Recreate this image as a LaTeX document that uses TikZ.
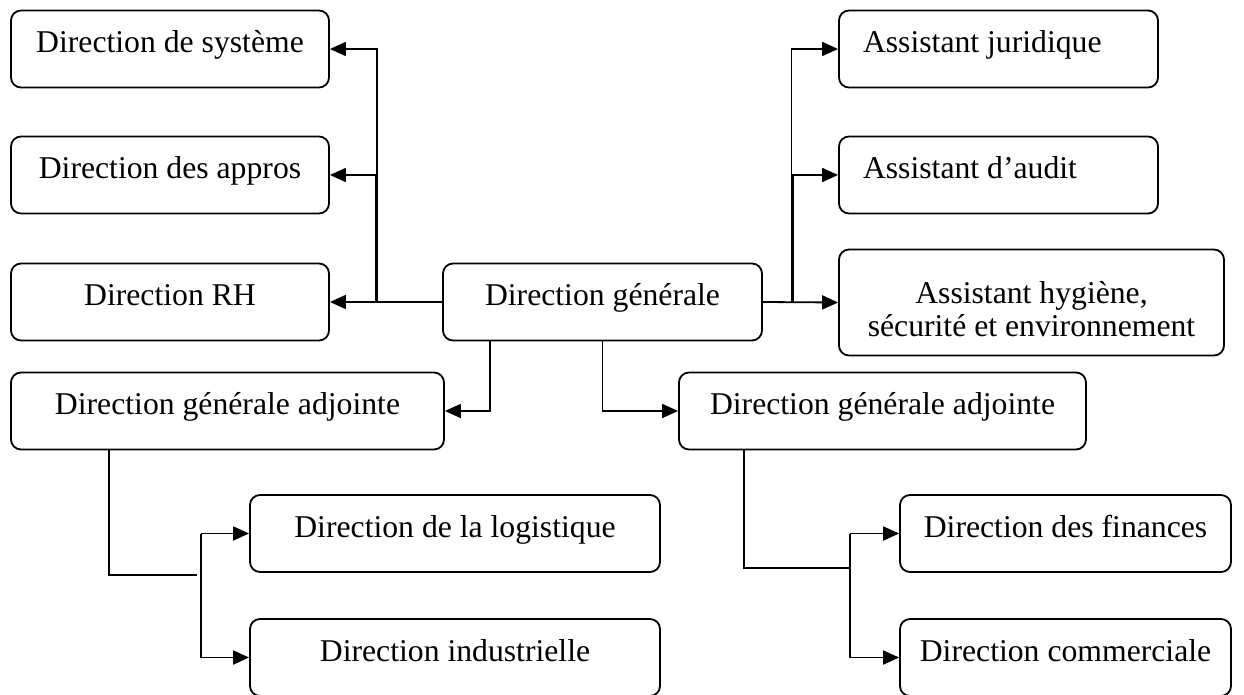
\documentclass[tikz,border=0pt]{standalone}
\usepackage{fontspec}
\setmainfont{Liberation Serif}
\usetikzlibrary{arrows.meta}

\tikzset{
  unit/.style={draw, rounded corners=10pt, line width=1.8pt, inner sep=0pt,
    minimum height=77pt, text height=42pt, text depth=35pt},
  link/.style={line width=1.8pt},
  tolink/.style={link, -{Triangle[length=16pt,width=14pt]}},
}

\begin{document}
\begin{tikzpicture}[x=1pt, y=-1pt, font=\fontsize{31.7pt}{33pt}\selectfont]
\useasboundingbox (0,0) rectangle (1244,695);

% head office
\node[unit, minimum width=319pt] (dg) at (602.5,302) {Direction générale};

% left-hand directions
\node[unit, minimum width=318pt] (sys) at (170,49) {Direction de système};
\node[unit, minimum width=318pt] (appros) at (170,175) {Direction des appros};
\node[unit, minimum width=318pt] (rh) at (170,302) {Direction RH};

% assistants
\node[unit, minimum width=319pt] (jur) at (998.5,49) {\makebox[271pt][l]{Assistant juridique}};
\node[unit, minimum width=319pt] (aud) at (998.5,175) {\makebox[271pt][l]{Assistant d’audit}};
\node[unit, minimum width=385pt, minimum height=106pt, text height=53.5pt, text depth=52.5pt]
  (hyg) at (1031.5,302.5)
  {\begin{tabular}[t]{@{}c@{}}Assistant hygiène,\\sécurité et environnement\end{tabular}};

% deputy offices
\node[unit, minimum width=433pt] (dgal) at (227.5,411) {Direction générale adjointe};
\node[unit, minimum width=407pt] (dgar) at (882.5,411) {Direction générale adjointe};

% lower directions
\node[unit, minimum width=410pt] (log) at (455,533.5) {Direction de la logistique};
\node[unit, minimum width=410pt] (ind) at (455,657.5) {Direction industrielle};
\node[unit, minimum width=331pt] (fin) at (1065.5,533.5) {Direction des finances};
\node[unit, minimum width=331pt] (com) at (1065.5,657.5) {Direction commerciale};

% junction points
\coordinate (jl) at (377,302);
\coordinate (jr) at (791.5,302);
\coordinate (bl) at (197,575);
\coordinate (br) at (851,568);

% head office to the left-hand directions
\draw[tolink] (dg.west) -- (rh.east);
\draw[tolink] (jl) |- (sys.east);
\draw[tolink] ([xshift=-1.5pt]jl) |- (appros.east);

% head office to the assistants
\draw[tolink] (dg.east) -- (hyg.west);
\draw[tolink] (jr) |- (jur.west);
\draw[tolink] ([xshift=1.5pt]jr) |- (aud.west);

% head office to the deputy offices
\draw[tolink] ([xshift=-112.5pt]dg.south) |- (dgal.east);
\draw[tolink] (dg.south) |- (dgar.west);

% left deputy office
\draw[link] ([xshift=99pt]dgal.south west) |- (bl);
\draw[tolink] ([xshift=-48pt]log.west) -- (log.west);
\draw[tolink] ([xshift=-48pt]log.west) |- (ind.west);

% right deputy office
\draw[link] ([xshift=66pt]dgar.south west) |- (br);
\draw[tolink] ([xshift=-49pt]fin.west) -- (fin.west);
\draw[tolink] ([xshift=-49pt]fin.west) |- (com.west);
\end{tikzpicture}
\end{document}
